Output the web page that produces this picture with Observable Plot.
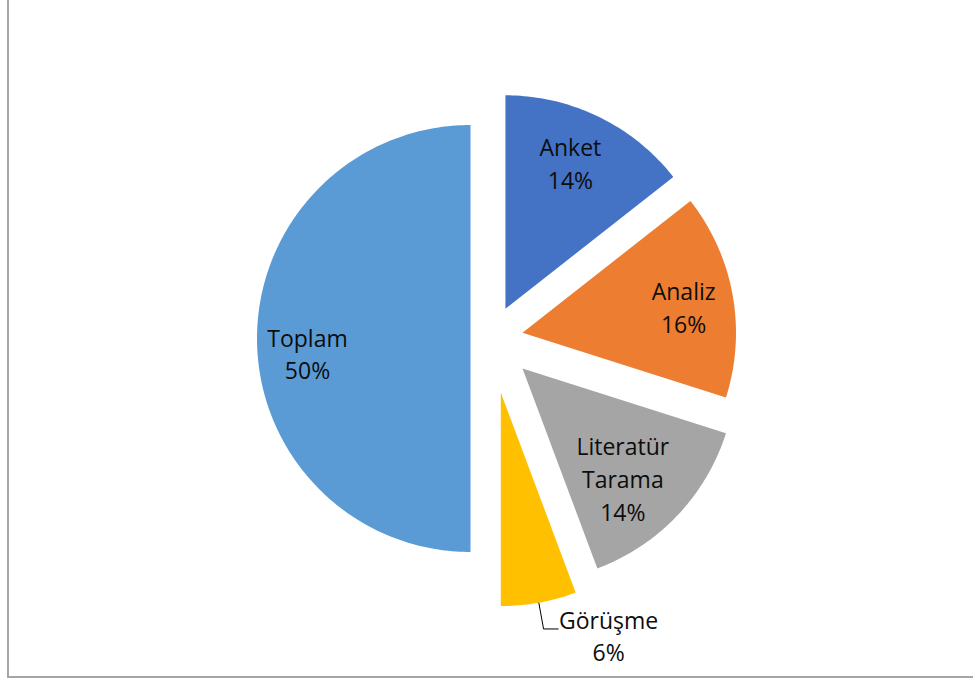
<!DOCTYPE html>
<html>
<head>
<meta charset="utf-8">
<script src="https://cdn.jsdelivr.net/npm/d3@7"></script>
<script src="https://cdn.jsdelivr.net/npm/@observablehq/plot@0.6"></script>
<style>
  html, body { margin: 0; padding: 0; background: #fff; overflow: hidden; width: 973px; height: 682px; }
  #frame { position: absolute; left: 7px; top: -4px; width: 1000px; height: 682px; border: 2px solid #a6a6a6; box-sizing: border-box; }
  #chart { position: absolute; left: 0; top: 0; }
</style>
</head>
<body>
<div id="frame"></div>
<div id="chart"></div>
<script>
// ---- data ----
const categories = ["Anket", "Analiz", "Literatür Tarama", "Görüşme", "Toplam"];
const values = [14.4, 15.5, 14.4, 5.7, 50];
const colors = ["#4472C4", "#ED7D31", "#A5A5A5", "#FFC000", "#5B9BD5"];

// ---- layout / style (pixels) ----
const W = 973, H = 682;
const CX = 490.5, CY = 338, R = 213.5;          // pie centre and radius
const explode = [33, 32, 43.5, 55, 20.5];        // per-slice explosion
const labelPlace = [                              // [angle shift deg, radius fraction] for inside labels
  [-1.5, 0.736], [2.3, 0.762], [4.8, 0.707], null, [-6.3, 0.768]
];
const outsideLabel = { index: 3, elbowR: 1.125, run: 15, dx: 65, dy: 11 };
const FONT = "'Open Sans', sans-serif";
const FS = 23;

// ---- geometry ----
const total = d3.sum(values);
const arcs = d3.pie().sort(null).startAngle(0).endAngle(2 * Math.PI)(values);
const toDeg = Math.PI / 180;

const slicePts = [];
const labels = [];
arcs.forEach((a, i) => {
  const mid = (a.startAngle + a.endAngle) / 2;
  const e = explode[i] / R;
  const ox = e * Math.sin(mid), oy = e * Math.cos(mid);
  const name = categories[i];
  slicePts.push({ name, x: ox, y: oy });
  const n = Math.max(4, Math.ceil((a.endAngle - a.startAngle) / (Math.PI / 180)));
  for (let k = 0; k <= n; k++) {
    const t = a.startAngle + (a.endAngle - a.startAngle) * k / n;
    slicePts.push({ name, x: ox + Math.sin(t), y: oy + Math.cos(t) });
  }
  slicePts.push({ name, x: ox, y: oy });

  const pct = Math.round(values[i] / total * 100) + "%";
  const txt = (name.length > 10 ? name.replace(" ", "\n") : name) + "\n" + pct;
  if (labelPlace[i]) {
    const [da, rf] = labelPlace[i];
    const ang = mid + da * toDeg;
    labels.push({ text: txt, x: ox + rf * Math.sin(ang), y: oy + rf * Math.cos(ang) });
  } else {
    // outside label with leader line
    const p0 = { x: ox + Math.sin(mid), y: oy + Math.cos(mid) };
    const p1 = { x: ox + outsideLabel.elbowR * Math.sin(mid), y: oy + outsideLabel.elbowR * Math.cos(mid) };
    const p2 = { x: p1.x + outsideLabel.run / R, y: p1.y };
    outsideLabel.leader = [p0, p1, p2];
    outsideLabel.label = { text: txt, x: p1.x + outsideLabel.dx / R, y: p1.y - outsideLabel.dy / R };
  }
});

const chart = Plot.plot({
  width: W,
  height: H,
  margin: 0,
  style: { background: "transparent", fontFamily: FONT },
  x: { domain: [-CX / R, (W - CX) / R], range: [0, W], axis: null },
  y: { domain: [(CY - H) / R, CY / R], range: [H, 0], axis: null },
  color: { domain: categories, range: colors },
  marks: [
    Plot.line(slicePts, { x: "x", y: "y", z: "name", fill: "name", stroke: "none", curve: "linear" }),
    Plot.line(outsideLabel.leader, { x: "x", y: "y", stroke: "#000", strokeWidth: 1, strokeLinecap: "butt", strokeLinejoin: "miter" }),
    Plot.text(labels, { x: "x", y: "y", text: "text", fontSize: FS, lineHeight: 1.43, dy: -4, fill: "#0d0d0d", textAnchor: "middle" }),
    Plot.text([outsideLabel.label], { x: "x", y: "y", text: "text", fontSize: FS, lineHeight: 1.37, dy: -5, fill: "#0d0d0d", textAnchor: "middle" })
  ]
});
document.getElementById("chart").appendChild(chart);
</script>
</body>
</html>
